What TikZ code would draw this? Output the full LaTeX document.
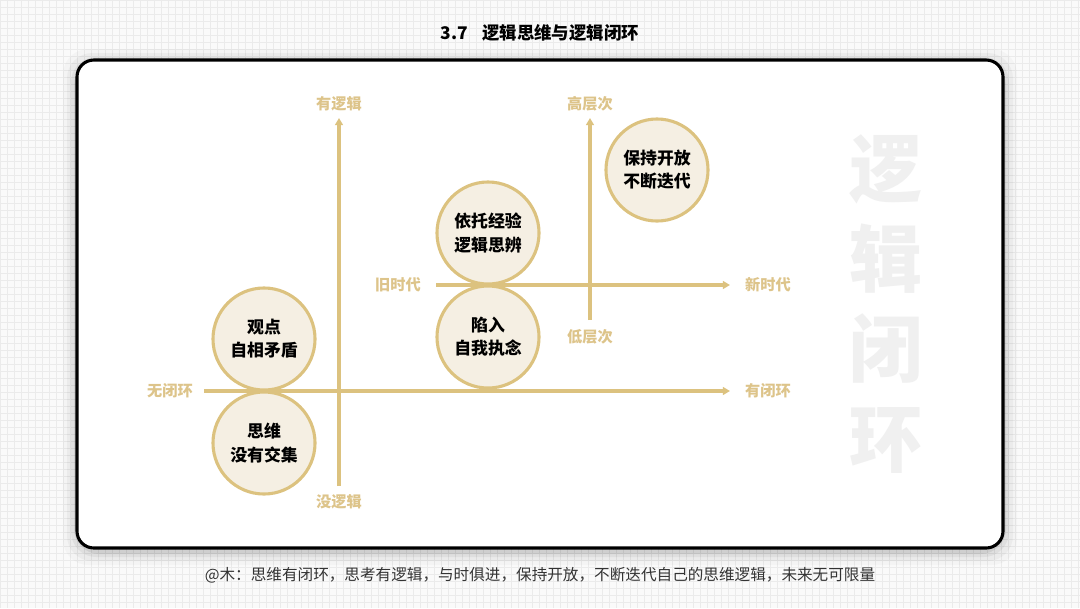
\documentclass[tikz,border=0pt]{standalone}
\usepackage{fontspec}
\setmainfont{Noto Sans CJK SC}
\usetikzlibrary{arrows.meta}
\definecolor{gold}{HTML}{DCC27F}
\definecolor{cream}{HTML}{F5EFE3}
\definecolor{labelgold}{HTML}{DDC48A}
\definecolor{wmgray}{HTML}{F0F0F0}
\definecolor{bggray}{HTML}{FAFAFA}
\definecolor{gridgray}{HTML}{EBEBEB}
\definecolor{footgray}{HTML}{333333}
\tikzset{
  bubble/.style={circle,draw=gold,fill=cream,line width=2.2pt,minimum size=2.55cm,
    inner sep=0pt,align=center,font=\bfseries\fontsize{12}{16.5}\selectfont},
  axislabel/.style={text=labelgold,font=\bfseries\fontsize{10.8}{12}\selectfont},
  axis/.style={draw=gold,line width=2.5pt}
}
\begin{document}
\begin{tikzpicture}[x=0.025cm,y=-0.025cm,>={Triangle[length=5pt,width=5.5pt]}]
\useasboundingbox (0,0) rectangle (1080,608);
% background and card
\fill[bggray] (0,0) rectangle (1080,608);
\draw[gridgray,line width=0.3pt,step=0.175cm] (0,0) grid (1080,608);
\foreach \s/\o in {14/0.025,10/0.035,6/0.05,3/0.07}
  \fill[black,opacity=\o,rounded corners=18] (77-\s,60-\s+3) rectangle (1003+\s,548+\s+3);
\draw[line width=2.2pt,rounded corners=12,fill=white] (77,60) rectangle (1003,548);
\node[font=\bfseries\fontsize{12.4}{14}\selectfont] (title) at (540,33) {3.7\hspace{0.8em}逻辑思维与逻辑闭环};
\node[text=footgray,font=\fontsize{11.1}{13}\selectfont] (footer) at (540,575)
  {@木：思维有闭环，思考有逻辑，与时俱进，保持开放，不断迭代自己的思维逻辑，未来无可限量};
\node[text=wmgray,align=center,font=\bfseries\fontsize{52}{63.8}\selectfont] (mark) at (886,304)
  {逻\\辑\\闭\\环};
% left quadrant
\coordinate (lbot) at (339,486);
\coordinate (ltop) at (339,118);
\coordinate (lleft) at (204,391);
\coordinate (lright) at (730,391);
\draw[axis,->] (lbot) -- (ltop);
\draw[axis,->] (lleft) -- (lright);
\node[axislabel] (youluoji) at (339,104) {有逻辑};
\node[axislabel] (meiluoji) at (339,502) {没逻辑};
\node[axislabel] (wubihuan) at (170,391) {无闭环};
\node[axislabel] (youbihuan) at (768,391) {有闭环};
\node[bubble] (maodun) at (264,339) {观点\\自相矛盾};
\node[bubble] (jiaoji) at (264,443) {思维\\没有交集};
% right quadrant
\coordinate (rbot) at (590,320);
\coordinate (rtop) at (590,118);
\coordinate (rleft) at (436,285);
\coordinate (rright) at (730,285);
\draw[axis,->] (rbot) -- (rtop);
\draw[axis,->] (rleft) -- (rright);
\node[axislabel] (gaocengci) at (590,104) {高层次};
\node[axislabel] (dicengci) at (590,337) {低层次};
\node[axislabel] (jiushidai) at (398,285) {旧时代};
\node[axislabel] (xinshidai) at (768,285) {新时代};
\node[bubble] (sibian) at (488,233) {依托经验\\逻辑思辨};
\node[bubble] (zhinian) at (488,337) {陷入\\自我执念};
\node[bubble] (kaifang) at (657,170) {保持开放\\不断迭代};
\end{tikzpicture}
\end{document}
